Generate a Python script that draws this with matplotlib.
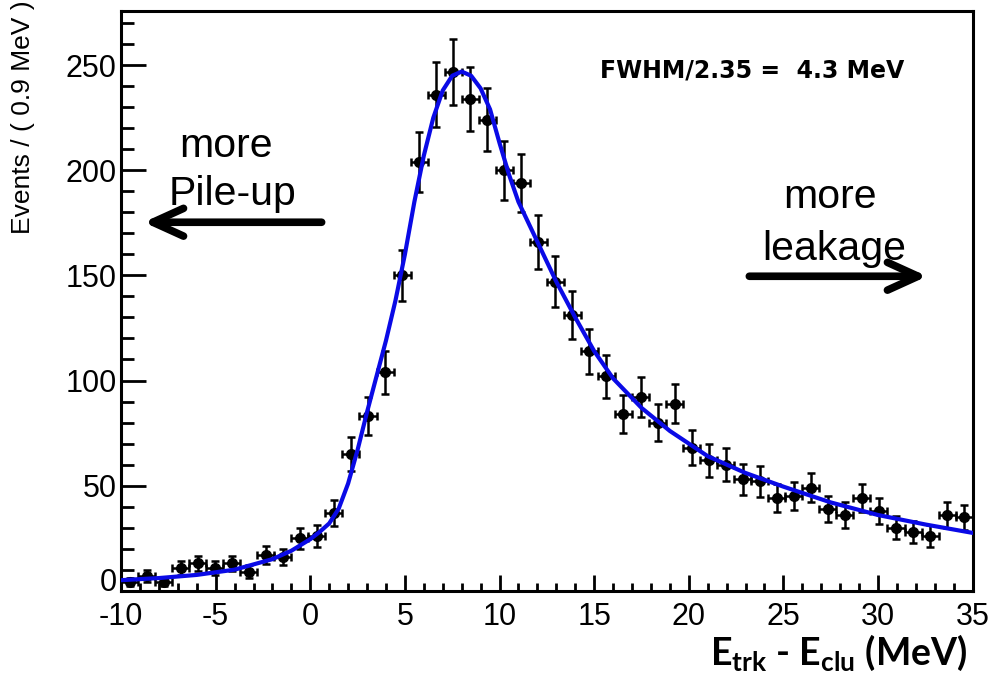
import numpy as np
import matplotlib
matplotlib.use("Agg")
import matplotlib.pyplot as plt
from matplotlib.ticker import MultipleLocator, FuncFormatter

plt.rcParams['font.family'] = ['Liberation Sans', 'DejaVu Sans']
plt.rcParams['axes.unicode_minus'] = False
plt.rcParams['mathtext.fontset'] = 'custom'
plt.rcParams['mathtext.rm'] = 'Lato'
plt.rcParams['mathtext.bf'] = 'Lato:bold'

# histogram bins (0.9 MeV wide) and counts
bin_lo = -10.0
bin_w = 0.9
counts = [4, 7, 4, 11, 13, 11, 13, 9, 17, 16,
          25, 26, 37, 65, 83, 104, 150, 204, 236, 247,
          234, 224, 200, 194, 166, 147, 131, 114, 102, 84,
          92, 80, 89, 68, 62, 60, 53, 52, 44, 45,
          49, 39, 36, 44, 38, 30, 28, 26, 36, 35]

# fitted curve
fit_x = [-10, -8, -6, -4, -2, -1, 0, 0.5, 1, 1.5, 2, 2.5, 3, 3.5, 4, 4.5, 5, 5.5,
         6, 6.5, 7, 7.5, 8, 8.5, 9, 9.5, 10, 10.5, 11, 12, 13, 14, 15, 16,
         17.5, 19, 21, 23, 25, 27.5, 30, 32.5, 35]
fit_y = [5, 6, 7.5, 10, 15, 19, 24.5, 28, 32, 39, 51, 67, 85, 102, 119, 138, 160, 185,
         207, 225, 238, 245, 247, 245, 239, 229, 213, 198, 185, 166, 147, 130, 114, 101,
         87, 76, 64, 56, 49.5, 42, 36, 31.5, 27.5]

counts = np.array(counts, dtype=float)
centers = bin_lo + bin_w * (np.arange(len(counts)) + 0.5)
errs = np.sqrt(counts)

fig = plt.figure(figsize=(9.92, 6.89), dpi=100)
ax = fig.add_axes([0.122, 0.1427, 0.8585, 0.8413])

ax.errorbar(centers, counts, yerr=errs, xerr=bin_w / 2, fmt='o', color='black',
            ms=7, elinewidth=1.8, capsize=3, capthick=1.8, zorder=2)
ax.plot(fit_x, fit_y, color='#0a0ae6', lw=3, zorder=3)

ax.set_xlim(-10, 35)
ax.set_ylim(0, 275.8)
ax.xaxis.set_major_locator(MultipleLocator(5))
ax.xaxis.set_minor_locator(MultipleLocator(1))
ax.yaxis.set_major_locator(MultipleLocator(50))
ax.yaxis.set_minor_locator(MultipleLocator(10))
# the "0" is drawn on its own, a bit higher, so it clears "-10"
ax.yaxis.set_major_formatter(FuncFormatter(lambda v, p: '' if v == 0 else '%d' % v))
ax.tick_params(axis='both', which='both', direction='in', top=False, right=False,
               width=2, labelsize=22)
ax.tick_params(axis='y', which='major', length=18, pad=3)
ax.tick_params(axis='y', which='minor', length=9)
ax.tick_params(axis='x', which='major', length=11.5, pad=8)
ax.tick_params(axis='x', which='minor', length=5.5)
for s in ax.spines.values():
    s.set_linewidth(2.2)
ax.text(-0.005, 3.5, '0', transform=ax.get_yaxis_transform(), ha='right',
        va='center', fontsize=22)

fig.text(23 / 992, 1 - 117 / 689, 'Events / ( 0.9 MeV )', rotation=90,
         ha='center', va='center', fontsize=19)

fig.text(752 / 992, 1 - 77 / 689, 'FWHM/2.35 =  4.3 MeV', ha='center',
         va='baseline', fontsize=17, fontweight='bold', family='DejaVu Sans')

fig.text(226 / 992, 1 - 157 / 689, 'more', ha='center', va='baseline', fontsize=29.5)
fig.text(232 / 992, 1 - 205 / 689, 'Pile-up', ha='center', va='baseline', fontsize=29.5)
fig.text(830 / 992, 1 - 208 / 689, 'more', ha='center', va='baseline', fontsize=29.5)
fig.text(834 / 992, 1 - 260 / 689, 'leakage', ha='center', va='baseline', fontsize=29.5)

arrow = dict(arrowstyle='->, head_length=1.1, head_width=0.5', lw=5.5,
             color='black', mutation_scale=20, capstyle='round', shrinkA=0, shrinkB=0)
ax.annotate('', xy=(-8.8, 175.3), xytext=(0.6, 175.3), arrowprops=arrow,
            annotation_clip=False)
ax.annotate('', xy=(32.6, 149.6), xytext=(23.2, 149.6), arrowprops=arrow,
            annotation_clip=False)

fig.text(968 / 992, 1 - 665 / 689, r'E$_{\mathbf{trk}}$ - E$_{\mathbf{clu}}$ (MeV)',
         ha='right', va='baseline', fontsize=27, fontweight='bold', family='Lato')

fig.savefig('out.png', dpi=100)
